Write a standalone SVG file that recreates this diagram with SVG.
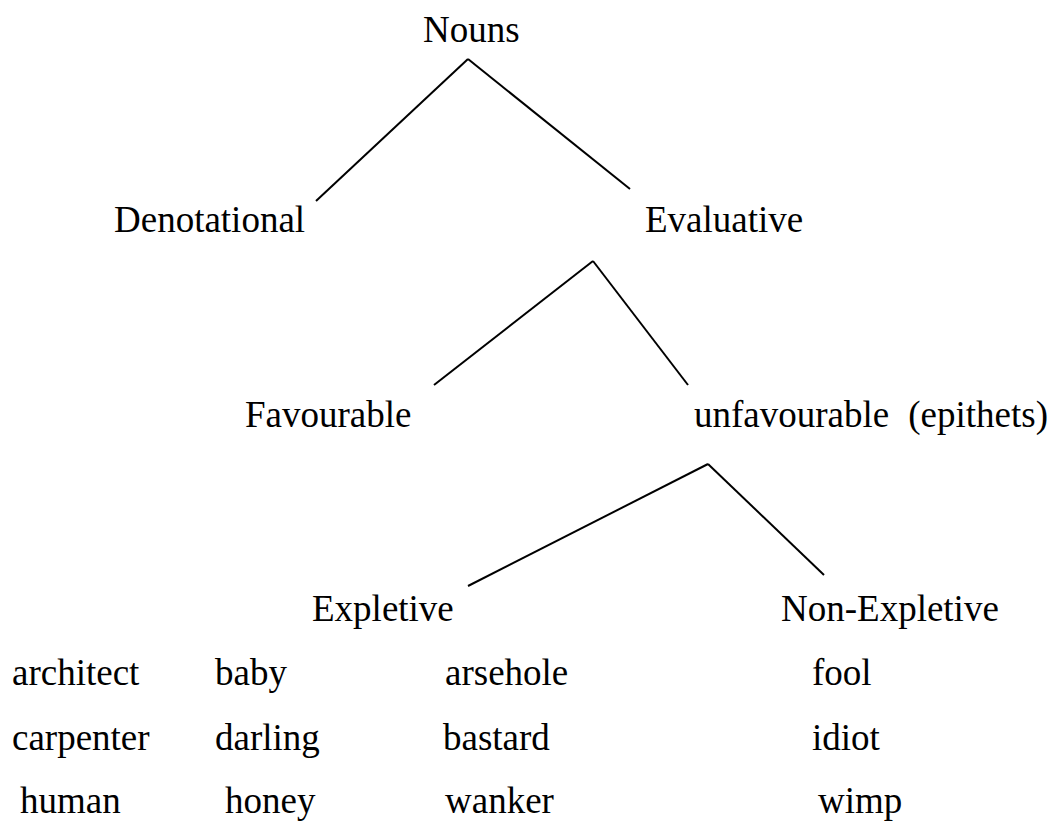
<svg xmlns="http://www.w3.org/2000/svg" width="1053" height="821" viewBox="0 0 1053 821">
<style>
text{font-family:"Liberation Serif","Times New Roman",serif;font-size:37px;fill:#000}
.c line{stroke:#000;stroke-width:2;fill:none}
</style>
<rect width="1053" height="821" fill="#fff"/>
<g id="connectors" class="c">
<line x1="468" y1="59" x2="316" y2="201"/>
<line x1="468" y1="59" x2="630" y2="189"/>
<line x1="593" y1="261" x2="434" y2="385"/>
<line x1="593" y1="261" x2="688" y2="385"/>
<line x1="708" y1="464" x2="468" y2="586"/>
<line x1="708" y1="464" x2="824" y2="575"/>
</g>
<g id="nouns"><text x="423" y="42">Nouns</text></g>
<g id="denotational"><text x="114" y="232">Denotational</text></g>
<g id="evaluative"><text x="645" y="232">Evaluative</text></g>
<g id="favourable"><text x="245" y="427">Favourable</text></g>
<g id="unfavourable"><text x="694" y="427">unfavourable</text><text x="1048" y="427" text-anchor="end">(epithets)</text></g>
<g id="expletive"><text x="312" y="621">Expletive</text></g>
<g id="nonexpletive"><text x="781" y="621">Non-Expletive</text></g>
<g id="examples">
<text x="12" y="685">architect</text>
<text x="215" y="685">baby</text>
<text x="445" y="685">arsehole</text>
<text x="812" y="685">fool</text>
<text x="12" y="750">carpenter</text>
<text x="215" y="750">darling</text>
<text x="443" y="750">bastard</text>
<text x="812" y="750">idiot</text>
<text x="20" y="813">human</text>
<text x="225" y="813">honey</text>
<text x="445" y="813">wanker</text>
<text x="818" y="813">wimp</text>
</g>
</svg>
